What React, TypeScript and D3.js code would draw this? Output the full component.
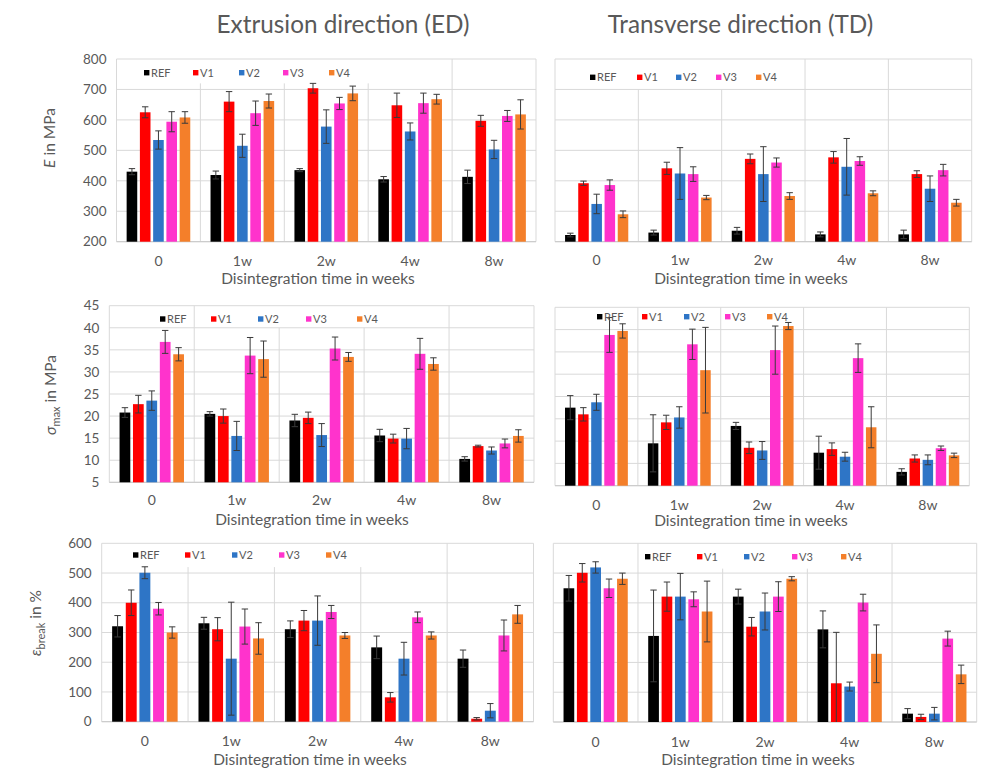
import React from 'react';
import * as d3 from 'd3';

const categories = ['0', '1w', '2w', '4w', '8w'];
const seriesNames = ['REF', 'V1', 'V2', 'V3', 'V4'];
const seriesColors = ['#000000', '#ff0000', '#2e75c6', '#ff33cc', '#f47f2a'];

const eTicks = [200, 300, 400, 500, 600, 700, 800];
const sigmaTicks = [5, 10, 15, 20, 25, 30, 35, 40, 45];
const epsTicks = [0, 100, 200, 300, 400, 500, 600];

// E in MPa, extrusion direction (rows: REF, V1..V4; cols: categories)
const eEdMean = [
  [430, 419, 435, 405, 413],
  [625, 660, 704, 648, 597],
  [534, 515, 578, 562, 503],
  [594, 622, 654, 655, 613],
  [608, 662, 687, 668, 618],
];
const eEdErr = [
  [10, 13, 5, 9, 22],
  [18, 33, 16, 40, 18],
  [30, 38, 55, 28, 30],
  [33, 40, 20, 33, 18],
  [19, 23, 24, 16, 48],
];
// E in MPa, transverse direction
const eTdMean = [
  [222, 230, 236, 224, 224],
  [392, 441, 472, 477, 422],
  [324, 424, 422, 446, 374],
  [386, 422, 460, 465, 435],
  [290, 345, 350, 359, 328],
];
const eTdErr = [
  [6, 8, 11, 8, 14],
  [7, 20, 16, 19, 11],
  [32, 85, 90, 93, 42],
  [17, 24, 15, 14, 19],
  [11, 7, 11, 8, 11],
];
// sigma max in MPa, ED
const sEdMean = [
  [20.8, 20.5, 19.0, 15.6, 10.3],
  [22.7, 20.0, 19.6, 14.9, 13.2],
  [23.5, 15.5, 15.7, 14.9, 12.2],
  [36.8, 33.7, 35.3, 34.1, 13.8],
  [34.0, 32.9, 33.4, 31.8, 15.5],
];
const sEdErr = [
  [1.1, 0.5, 1.4, 1.4, 0.5],
  [2.0, 1.6, 1.3, 1.0, 0.2],
  [2.2, 3.3, 2.6, 2.3, 0.8],
  [2.6, 4.1, 2.6, 3.5, 1.0],
  [1.5, 4.1, 1.0, 1.4, 1.4],
];
// sigma max in MPa, TD
const sTdMean = [
  [22.5, 14.5, 18.4, 12.4, 8.1],
  [21.0, 19.2, 13.5, 13.2, 11.1],
  [23.7, 20.3, 12.9, 11.5, 10.8],
  [38.8, 36.7, 35.4, 33.6, 13.4],
  [39.7, 30.9, 40.8, 18.1, 11.8],
];
const sTdErr = [
  [2.7, 6.4, 0.8, 3.7, 0.7],
  [1.5, 1.6, 1.3, 1.4, 0.8],
  [1.8, 2.4, 2.0, 1.0, 1.1],
  [3.9, 3.4, 5.4, 3.2, 0.5],
  [1.6, 9.6, 0.8, 4.6, 0.5],
];
// epsilon break in %, ED
const bEdMean = [
  [321, 331, 311, 250, 212],
  [400, 311, 340, 82, 10],
  [501, 212, 340, 212, 37],
  [380, 320, 369, 351, 290],
  [300, 280, 290, 290, 361],
];
const bEdErr = [
  [36, 20, 28, 38, 29],
  [43, 39, 34, 16, 4],
  [20, 190, 83, 55, 24],
  [21, 59, 22, 18, 52],
  [19, 53, 10, 12, 30],
];
// epsilon break in %, TD
const bTdMean = [
  [449, 289, 421, 311, 28],
  [501, 421, 320, 130, 17],
  [519, 421, 371, 119, 28],
  [449, 412, 421, 401, 280],
  [481, 371, 481, 229, 160],
];
const bTdErr = [
  [43, 154, 25, 62, 17],
  [31, 49, 31, 171, 9],
  [19, 78, 62, 15, 21],
  [31, 25, 50, 28, 25],
  [19, 102, 7, 97, 31],
];

const FONT = "Lato, 'Open Sans', sans-serif";
const GRAY = '#595959';
const GRID = '#d9d9d9';

type Panel = {
  x0: number; x1: number; y0: number; y1: number;
  ticks: number[]; showTicks: boolean;
  mean: number[][]; err: number[][];
  legendXs: number[]; legendY: number;
  cuts: (number | null)[];
  catY: number; titleY: number; titleX: number;
};

const panels: Panel[] = [
  { x0: 116.5, x1: 536, y0: 59, y1: 241.7, ticks: eTicks, showTicks: true, mean: eEdMean, err: eEdErr,
    legendXs: [144, 193, 239, 283, 329], legendY: 72.7, cuts: [720, 720, 720, null],
    catY: 260.7, titleY: 278.3, titleX: 318 },
  { x0: 555, x1: 971.7, y0: 59, y1: 241.7, ticks: eTicks, showTicks: false, mean: eTdMean, err: eTdErr,
    legendXs: [590, 637, 676, 716, 756], legendY: 77.3, cuts: [700, 700, null, null],
    catY: 260, titleY: 278.3, titleX: 751 },
  { x0: 109.3, x1: 534, y0: 305.7, y1: 482.3, ticks: sigmaTicks, showTicks: true, mean: sEdMean, err: sEdErr,
    legendXs: [160, 211, 258, 306, 357], legendY: 319, cuts: [null, 40, 40, null],
    catY: 500, titleY: 520, titleX: 312 },
  { x0: 555, x1: 969.3, y0: 307.3, y1: 485.7, ticks: sigmaTicks, showTicks: false, mean: sTdMean, err: sTdErr,
    legendXs: [597, 642, 684, 725, 767], legendY: 316.7, cuts: [null, null, null, null],
    catY: 505, titleY: 521, titleX: 751 },
  { x0: 101.7, x1: 533.5, y0: 543.3, y1: 721.7, ticks: epsTicks, showTicks: true, mean: bEdMean, err: bEdErr,
    legendXs: [133, 185, 232, 279, 326], legendY: 555, cuts: [520, 520, 520, null],
    catY: 740.7, titleY: 760, titleX: 310 },
  { x0: 553.3, x1: 976.7, y0: 543.3, y1: 722, ticks: epsTicks, showTicks: false, mean: bTdMean, err: bTdErr,
    legendXs: [645, 697, 744, 792, 841], legendY: 556.7, cuts: [null, 515, 515, null],
    catY: 741.7, titleY: 760, titleX: 758 },
];

function ChartPanel({ p }: { p: Panel }) {
  const lo = p.ticks[0];
  const hi = p.ticks[p.ticks.length - 1];
  const x = d3.scaleBand<string>().domain(categories).range([p.x0, p.x1]).padding(0);
  const groupW = x.bandwidth() * 0.79;
  const off = (x.bandwidth() - groupW) / 2;
  const inner = d3.scaleBand<string>().domain(seriesNames).range([0, groupW]).paddingInner(0.2).paddingOuter(0.1);
  const y = d3.scaleLinear().domain([lo, hi]).range([p.y1, p.y0]);
  const bw = inner.bandwidth();
  const cap = 3.2;
  return (
    <g>
      {p.ticks.map((t) => (
        <line key={'g' + t} x1={p.x0} x2={p.x1} y1={y(t)} y2={y(t)} stroke={GRID} strokeWidth={1} />
      ))}
      <line x1={p.x0} x2={p.x0} y1={p.y0} y2={p.y1} stroke={GRID} />
      <line x1={p.x1} x2={p.x1} y1={p.y0} y2={p.y1} stroke={GRID} />
      {categories.slice(1).map((c, i) => {
        const cx = x(c)!;
        const top = p.cuts[i] == null ? p.y0 : y(p.cuts[i] as number);
        return <line key={'s' + c} x1={cx} x2={cx} y1={top} y2={p.y1} stroke={GRID} />;
      })}
      <line x1={p.x0} x2={p.x1} y1={p.y1} y2={p.y1} stroke="#c8c8c8" />
      {p.showTicks && p.ticks.map((t) => (
        <text key={'t' + t} x={p.x0 - 10} y={y(t)} dy="0.35em" textAnchor="end" fontSize={13.5} fill={GRAY} fontFamily={FONT}>{t}</text>
      ))}
      {seriesNames.map((s, si) => categories.map((c, ci) => {
        const v = p.mean[si][ci];
        const e = p.err[si][ci];
        const bx = x(c)! + off + inner(s)!;
        const cx = bx + bw / 2;
        return (
          <g key={s + c}>
            <rect x={bx} y={y(v)} width={bw} height={y(lo) - y(v)} fill={seriesColors[si]} />
            <line x1={cx} x2={cx} y1={y(v + e)} y2={y(Math.max(lo, v - e))} stroke="#3a3a3a" strokeWidth={1} />
            <line x1={cx - cap} x2={cx + cap} y1={y(v + e)} y2={y(v + e)} stroke="#3a3a3a" strokeWidth={1} />
            {v - e > lo && <line x1={cx - cap} x2={cx + cap} y1={y(v - e)} y2={y(v - e)} stroke="#3a3a3a" strokeWidth={1} />}
          </g>
        );
      }))}
      {seriesNames.map((s, si) => (
        <g key={'l' + s}>
          <rect x={p.legendXs[si]} y={p.legendY - 2.7} width={5.4} height={5.4} fill={seriesColors[si]} />
          <text x={p.legendXs[si] + 7} y={p.legendY} dy="0.35em" fontSize={11} fill={GRAY} fontFamily={FONT}>{s}</text>
        </g>
      ))}
      {categories.map((c) => (
        <text key={'c' + c} x={x(c)! + x.bandwidth() / 2} y={p.catY} dy="0.35em" textAnchor="middle" fontSize={14} fill={GRAY} fontFamily={FONT}>{c}</text>
      ))}
      <text x={p.titleX} y={p.titleY} dy="0.35em" textAnchor="middle" fontSize={15.5} fill={GRAY} fontFamily={FONT}>Disintegration time in weeks</text>
    </g>
  );
}

export default function App() {
  return (
    <svg width={990} height={770} style={{ position: 'absolute', left: 0, top: 0, background: '#fff' }}>
      <rect x={0} y={0} width={990} height={770} fill="#fff" />
      <text x={343} y={33} textAnchor="middle" fontSize={24.3} fill={GRAY} fontFamily={FONT}>Extrusion direction (ED)</text>
      <text x={740.5} y={33} textAnchor="middle" fontSize={24.3} fill={GRAY} fontFamily={FONT}>Transverse direction (TD)</text>
      {panels.map((p, i) => <ChartPanel key={i} p={p} />)}
      <text transform="translate(55,138) rotate(-90)" textAnchor="middle" fontSize={15.5} fill={GRAY} fontFamily={FONT}>
        <tspan fontStyle="italic">E</tspan><tspan> in MPa</tspan>
      </text>
      <text transform="translate(56,395) rotate(-90)" textAnchor="middle" fontSize={15.5} fill={GRAY} fontFamily={FONT}>
        <tspan fontStyle="italic">σ</tspan><tspan fontSize={11} dy={4}>max</tspan><tspan dy={-4}> in MPa</tspan>
      </text>
      <text transform="translate(41,623) rotate(-90)" textAnchor="middle" fontSize={15.5} fill={GRAY} fontFamily={FONT}>
        <tspan fontStyle="italic">ε</tspan><tspan fontSize={11} dy={4}>break</tspan><tspan dy={-4}> in %</tspan>
      </text>
    </svg>
  );
}
